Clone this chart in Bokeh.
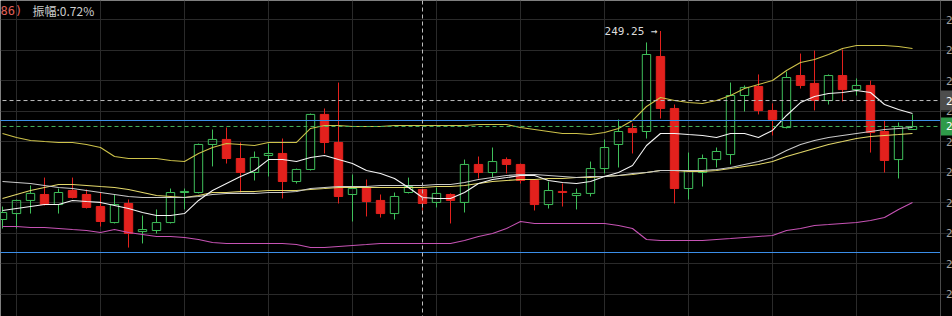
from bokeh.plotting import figure
from bokeh.models import Range1d, FixedTicker, Grid, Span, ColumnDataSource
from bokeh.core.properties import value
from bokeh.embed import file_html
from bokeh.resources import INLINE

# ---------------- data ----------------
opens = [236.89, 237.28, 238.14, 238.53, 237.87, 238.79, 238.53, 237.74, 236.69, 237.94,
         236.10, 236.17, 236.69, 238.66, 238.66, 241.81, 242.14, 240.89, 239.97, 241.09,
         241.22, 239.38, 240.17, 243.78, 241.94, 238.53, 238.99, 238.14, 237.28, 238.66,
         238.86, 238.01, 238.53, 238.01, 240.50, 239.97, 240.82, 240.50, 239.45, 237.87,
         238.73, 238.46, 238.60, 240.23, 241.81, 242.86, 242.66, 247.58, 244.17, 238.92,
         239.97, 240.82, 241.15, 245.02, 245.61, 244.04, 242.92, 246.33, 245.81, 244.69,
         246.33, 245.41, 245.68, 242.66, 240.82, 242.79]
highs = [237.74, 238.20, 239.12, 239.64, 238.92, 239.64, 238.86, 238.66, 238.53, 238.20,
         237.15, 237.55, 238.92, 238.92, 241.87, 242.79, 242.92, 241.94, 241.35, 241.87,
         242.20, 240.23, 243.84, 244.17, 245.87, 239.84, 239.51, 238.53, 238.66, 239.64,
         238.92, 238.99, 238.60, 240.82, 241.02, 241.61, 240.96, 240.56, 239.51, 239.38,
         239.25, 238.92, 240.69, 242.14, 243.45, 243.19, 248.50, 249.25, 244.43, 241.28,
         241.15, 241.61, 245.87, 245.68, 246.40, 244.50, 246.59, 247.77, 247.97, 246.40,
         248.04, 246.14, 246.00, 243.38, 243.25, 243.78]
lows = [236.30, 236.30, 237.28, 237.81, 237.28, 238.27, 237.61, 236.43, 236.63, 235.05,
        235.32, 235.97, 236.63, 237.55, 238.60, 240.37, 240.56, 238.66, 239.45, 239.71,
        238.27, 239.25, 240.10, 241.22, 237.94, 236.76, 237.09, 237.02, 236.89, 238.60,
        237.48, 237.68, 236.63, 237.35, 239.58, 239.64, 239.91, 239.25, 237.48, 237.61,
        237.74, 237.55, 238.40, 239.91, 240.30, 241.22, 242.20, 243.51, 237.94, 238.20,
        239.05, 240.30, 240.50, 243.97, 243.78, 242.40, 242.86, 245.48, 244.04, 244.43,
        244.63, 245.02, 241.28, 239.97, 239.58, 242.79]
closes = [237.35, 238.14, 238.60, 237.87, 238.66, 238.33, 237.68, 236.76, 237.87, 235.97,
          236.23, 236.69, 238.66, 238.73, 241.81, 242.14, 240.89, 239.97, 240.96, 241.22,
          239.38, 240.17, 243.78, 241.94, 238.40, 238.92, 238.07, 237.28, 238.40, 239.05,
          237.94, 238.60, 238.14, 240.50, 239.97, 240.69, 240.50, 239.45, 237.87, 238.79,
          238.66, 238.60, 240.23, 241.61, 242.66, 242.59, 247.71, 244.17, 238.92, 240.10,
          240.89, 241.35, 245.02, 245.55, 244.04, 243.45, 246.20, 245.68, 244.69, 246.33,
          245.41, 245.68, 242.59, 240.76, 242.99, 242.99]

boll_upper = [242.53, 242.27, 242.07, 242.00, 241.94, 241.94, 241.81, 241.61, 241.02, 240.89,
              240.89, 240.89, 240.76, 240.69, 241.22, 241.61, 241.87, 241.81, 241.74, 241.94,
              241.94, 241.94, 242.86, 243.05, 243.05, 242.99, 242.99, 242.99, 243.05, 243.05,
              243.05, 243.05, 243.05, 243.05, 243.12, 243.12, 243.12, 242.92, 242.79, 242.66,
              242.53, 242.53, 242.46, 242.59, 242.86, 243.38, 244.30, 244.89, 244.69, 244.56,
              244.50, 244.69, 245.02, 245.48, 245.74, 246.00, 246.66, 247.18, 247.38, 247.71,
              248.10, 248.30, 248.30, 248.30, 248.23, 248.10]
boll_mid = [239.38, 239.32, 239.25, 239.12, 238.99, 238.92, 238.79, 238.66, 238.53, 238.40,
            238.33, 238.33, 238.33, 238.33, 238.40, 238.53, 238.60, 238.60, 238.60, 238.66,
            238.66, 238.73, 238.92, 238.99, 239.05, 239.05, 239.05, 239.12, 239.12, 239.12,
            239.12, 239.19, 239.19, 239.32, 239.51, 239.64, 239.78, 239.84, 239.84, 239.78,
            239.71, 239.64, 239.71, 239.71, 239.78, 239.91, 239.97, 240.10, 240.10, 240.10,
            240.10, 240.17, 240.30, 240.50, 240.69, 240.96, 241.41, 241.81, 242.07, 242.27,
            242.40, 242.53, 242.66, 242.79, 242.86, 242.92]
boll_lower = [236.43, 236.43, 236.37, 236.37, 236.30, 236.23, 236.17, 236.04, 236.23, 236.04,
              235.91, 235.78, 235.78, 235.71, 235.58, 235.38, 235.32, 235.32, 235.32, 235.32,
              235.32, 235.25, 235.05, 235.05, 235.12, 235.19, 235.25, 235.32, 235.32, 235.32,
              235.32, 235.32, 235.32, 235.51, 235.78, 235.97, 236.30, 236.76, 236.63, 236.63,
              236.63, 236.63, 236.63, 236.63, 236.50, 236.30, 235.58, 235.51, 235.51, 235.51,
              235.51, 235.58, 235.64, 235.71, 235.78, 235.84, 236.17, 236.30, 236.50, 236.56,
              236.63, 236.69, 236.82, 237.02, 237.55, 238.01]
ma_fast = [237.48, 237.61, 237.74, 237.87, 237.87, 238.14, 238.07, 238.01, 237.81, 237.61,
           237.35, 237.15, 237.15, 237.28, 238.14, 238.79, 239.25, 239.71, 240.10, 240.82,
           240.82, 240.69, 240.96, 241.09, 240.82, 240.56, 240.10, 239.91, 239.58, 238.99,
           238.33, 238.27, 238.27, 238.66, 239.25, 239.51, 239.64, 239.78, 239.78, 239.45,
           239.32, 239.25, 239.38, 239.71, 239.97, 240.43, 241.74, 242.53, 242.53, 242.46,
           242.40, 242.27, 242.53, 242.53, 242.27, 242.73, 243.71, 244.56, 244.96, 245.15,
           245.22, 245.35, 245.22, 244.43, 244.10, 243.84]
ma_slow = [238.27, 238.53, 238.79, 238.99, 239.19, 239.19, 239.12, 239.05, 238.99, 238.86,
           238.66, 238.46, 238.40, 238.33, 238.46, 238.66, 238.66, 238.73, 238.73, 238.79,
           238.79, 238.79, 238.86, 238.92, 238.99, 238.99, 238.99, 238.99, 238.99, 238.99,
           238.99, 239.05, 239.05, 239.12, 239.25, 239.38, 239.45, 239.51, 239.51, 239.58,
           239.58, 239.64, 239.64, 239.71, 239.78, 239.84, 239.97, 240.10, 240.10, 240.04,
           240.04, 240.10, 240.23, 240.37, 240.50, 240.69, 241.02, 241.28, 241.55, 241.81,
           242.00, 242.20, 242.33, 242.40, 242.46, 242.53]

price_ticks = [232, 234, 236, 238, 240, 242, 244, 246, 248, 250]
tick_labels = ["232.00", "234.00", "236.00", "238.00", "240.00",
               "242.00", "244.00", "246.00", "248.00", "250.00"]
resistance_price = 243.38
support_price = 234.73
cross_price = 244.69
cross_index = 30
header_left = "86)"
header_amp = "振幅:0.72%"

# ---------------- styling ----------------
BG = "#000000"
GRID = "#2a2a2a"
UP = "#3fbf5a"
DOWN = "#e3211d"

n = len(opens)
idx = list(range(n))
last_price = closes[-1]

p = figure(width=952, height=316, output_backend="svg", toolbar_location=None,
           x_range=Range1d(-1 / 7, 67 + 6 / 7), y_range=Range1d(230.53, 251.25),
           x_axis_location=None, y_axis_location=None, min_border=0,
           background_fill_color=BG, border_fill_color=BG, outline_line_color=None)
# hide the automatic grids, then draw the chart's own grid
p.grid.grid_line_color = None

p.add_layout(Grid(dimension=1, ticker=FixedTicker(ticks=price_ticks),
                  grid_line_color=GRID, grid_line_width=1))
p.add_layout(Grid(dimension=0, ticker=FixedTicker(ticks=list(range(1, 62, 6))),
                  grid_line_color=GRID, grid_line_width=1))
p.add_layout(Span(location=67, dimension="height", line_color="#4a4a4a", line_width=1))

# candles
def body(o, c):
    top, bot = max(o, c), min(o, c)
    if top - bot < 0.07:
        m = (top + bot) / 2
        top, bot = m + 0.035, m - 0.035
    return top, bot

up = dict(x=[], h=[], l=[], top=[], bot=[])
dn = dict(x=[], h=[], l=[], top=[], bot=[])
for i in idx:
    t, b = body(opens[i], closes[i])
    d = up if closes[i] >= opens[i] else dn
    d["x"].append(i); d["h"].append(highs[i]); d["l"].append(lows[i])
    d["top"].append(t); d["bot"].append(b)

for d, col in ((up, UP), (dn, DOWN)):
    src = ColumnDataSource(d)
    p.segment(x0="x", y0="h", x1="x", y1="top", source=src, line_color=col, line_width=1)
    p.segment(x0="x", y0="bot", x1="x", y1="l", source=src, line_color=col, line_width=1)
    p.vbar(x="x", width=0.6, top="top", bottom="bot", source=src,
           fill_color=(None if col == UP else col), line_color=col, line_width=1)

# indicator lines
p.line(idx, boll_lower, line_color="#c653b4", line_width=1.1)
p.line(idx, boll_upper, line_color="#cdc24a", line_width=1.1)
p.line(idx, ma_slow, line_color="#e3d86a", line_width=1.1)
p.line(idx, boll_mid, line_color="#c9c9c9", line_width=1.1)
p.line(idx, ma_fast, line_color="#f4f4f4", line_width=1.1)

# horizontal reference lines
p.segment(x0=[-1, -1], y0=[resistance_price, support_price], x1=[67, 67],
          y1=[resistance_price, support_price], line_color="#3b8ee8", line_width=1.1)
p.segment(x0=[-1], y0=[last_price], x1=[67], y1=[last_price],
          line_color="#45b35c", line_width=1, line_dash="4 3")
p.segment(x0=[-1], y0=[cross_price], x1=[67], y1=[cross_price],
          line_color="#bdbdbd", line_width=1, line_dash="4 3")
p.add_layout(Span(location=cross_index, dimension="height", line_color="#bdbdbd",
                  line_width=1, line_dash="4 3"))

# right-side price scale (the window edge cuts it, as in the reference)
p.text(x=[67.4] * len(price_ticks), y=price_ticks, text=tick_labels,
       text_align="left", text_baseline="middle", text_color="#a0a0a0",
       text_font=value("DejaVu Sans Mono"), text_font_size="11px")
p.quad(left=[67.0], right=[68.5], bottom=[cross_price - 0.655], top=[cross_price + 0.655],
       fill_color="#4d4d4d", line_color=None)
p.quad(left=[67.0], right=[68.5], bottom=[last_price - 0.59], top=[last_price + 0.59],
       fill_color="#2f9a4a", line_color=None)
p.text(x=[67.4, 67.4], y=[cross_price, last_price],
       text=["%.2f" % cross_price, "%.2f" % last_price],
       text_align="left", text_baseline="middle", text_color="#ffffff",
       text_font=value("DejaVu Sans Mono"), text_font_size="11px")

# peak annotation
peak = max(highs)
pk = highs.index(peak)
p.text(x=[pk], y=[peak], text=["%.2f →" % peak], x_offset=-3,
       text_align="right", text_baseline="middle", text_color="#dcdcdc",
       text_font=value("DejaVu Sans Mono"), text_font_size="11px")

# header texts
top_y = 251.25
p.text(x=[-1 / 7], y=[top_y], text=[header_left], y_offset=10, x_offset=0,
       text_align="left", text_baseline="middle", text_color="#e0605a",
       text_font=value("DejaVu Sans Mono"), text_font_size="12px")
p.text(x=[-1 / 7], y=[top_y], text=[header_amp], y_offset=10, x_offset=32,
       text_align="left", text_baseline="middle", text_color="#cccccc",
       text_font=value("Noto Sans CJK SC"), text_font_size="12px")

open("out.html", "w").write(file_html(p, INLINE))
